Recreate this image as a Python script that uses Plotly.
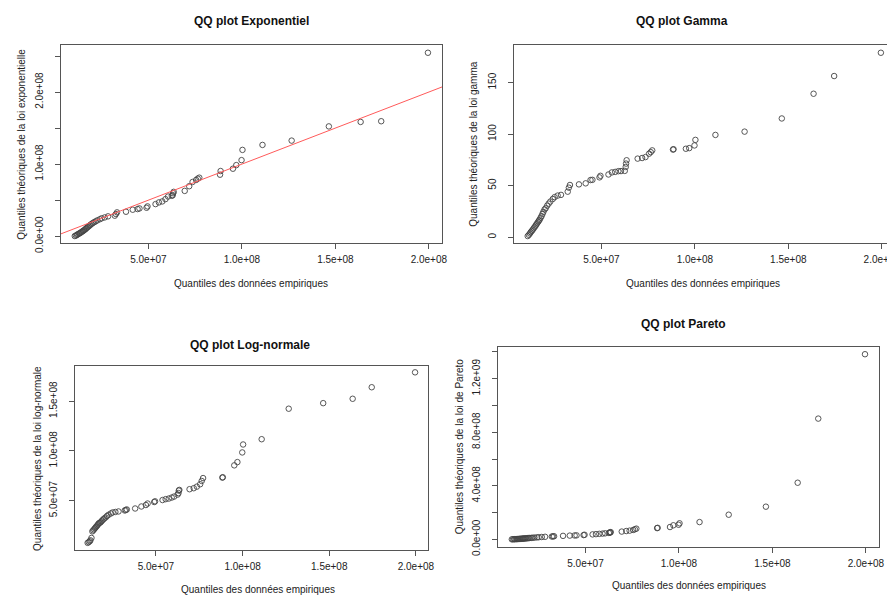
import plotly.graph_objects as go

W, H = 895, 596

# Empirical quantiles (sorted data), shared by all four panels
empirical = [
    1.06e7, 1.12e7, 1.18e7, 1.22e7, 1.28e7, 1.33e7, 1.38e7, 1.43e7, 1.48e7, 1.52e7,
    1.57e7, 1.62e7, 1.66e7, 1.70e7, 1.75e7, 1.80e7, 1.85e7, 1.90e7, 1.96e7, 2.02e7,
    2.10e7, 2.18e7, 2.27e7, 2.40e7, 2.50e7, 2.66e7,
    2.84e7, 3.20e7, 3.26e7, 3.32e7,
    3.80e7, 4.16e7, 4.42e7, 4.52e7, 4.90e7, 4.95e7,
    5.38e7, 5.56e7, 5.74e7, 5.91e7, 6.05e7,
    6.25e7, 6.30e7, 6.32e7, 6.35e7,
    6.94e7, 7.18e7, 7.36e7, 7.55e7, 7.64e7, 7.72e7,
    8.83e7, 8.86e7, 9.52e7, 9.70e7, 9.98e7, 1.003e8,
    1.11e8, 1.266e8, 1.465e8, 1.635e8, 1.745e8, 1.995e8,
]

q_exponentiel = [
    0.15e6, 0.9e6, 1.7e6, 2.6e6, 3.4e6, 4.2e6, 5.0e6, 5.9e6, 6.8e6, 7.6e6,
    8.5e6, 9.5e6, 1.05e7, 1.15e7, 1.25e7, 1.36e7, 1.47e7, 1.58e7, 1.70e7, 1.82e7,
    1.94e7, 2.06e7, 2.20e7, 2.35e7, 2.48e7, 2.60e7,
    2.75e7, 2.84e7, 3.07e7, 3.30e7,
    3.39e7, 3.67e7, 3.76e7, 3.85e7, 3.94e7, 4.13e7,
    4.45e7, 4.68e7, 4.82e7, 5.14e7, 5.50e7,
    5.60e7, 5.69e7, 5.96e7, 6.15e7,
    6.28e7, 6.93e7, 7.52e7, 7.80e7, 7.98e7, 8.12e7,
    8.53e7, 9.04e7, 9.36e7, 9.86e7, 1.055e8, 1.197e8,
    1.266e8, 1.326e8, 1.523e8, 1.585e8, 1.595e8, 2.545e8,
]

q_gamma = [
    1.0, 2.2, 3.5, 4.8, 6.0, 7.2, 8.5, 9.8, 11.0, 12.3,
    13.5, 14.9, 16.0, 17.0, 18.8, 20.4, 22.5, 24.5, 26.8, 28.0,
    30.5, 32.5, 34.5, 37.0, 38.8, 40.3,
    41.0, 44.1, 48.0, 50.6,
    51.2, 52.2, 55.4, 55.6, 58.0, 59.5,
    60.8, 62.8, 63.3, 64.0, 64.1,
    64.3, 68.1, 71.4, 74.6,
    76.2, 76.8, 77.7, 81.0, 82.5, 84.2,
    85.0, 85.3, 85.8, 86.4, 89.0, 94.4,
    99.2, 102.4, 115.2, 139.2, 156.4, 179.0,
]

q_lognormale = [
    0.74e7, 0.82e7, 0.90e7, 1.00e7, 1.24e7, 1.90e7, 2.00e7, 2.10e7, 2.20e7, 2.30e7,
    2.40e7, 2.50e7, 2.60e7, 2.70e7, 2.75e7, 2.80e7, 2.90e7, 3.00e7, 3.10e7, 3.20e7,
    3.30e7, 3.45e7, 3.57e7, 3.70e7, 3.80e7, 3.85e7,
    3.90e7, 4.00e7, 4.05e7, 4.10e7,
    4.20e7, 4.40e7, 4.55e7, 4.70e7, 4.85e7, 4.92e7,
    5.05e7, 5.14e7, 5.20e7, 5.30e7, 5.40e7,
    5.60e7, 5.75e7, 6.00e7, 6.07e7,
    6.14e7, 6.24e7, 6.40e7, 6.64e7, 6.97e7, 7.26e7,
    7.31e7, 7.34e7, 8.54e7, 8.87e7, 9.84e7, 1.064e8,
    1.117e8, 1.424e8, 1.480e8, 1.524e8, 1.640e8, 1.790e8,
]

q_pareto = [
    0.1e6, 0.4e6, 0.8e6, 1.2e6, 1.6e6, 2.0e6, 2.5e6, 3.0e6, 3.5e6, 4.0e6,
    4.5e6, 5.0e6, 5.6e6, 6.2e6, 6.8e6, 7.4e6, 8.0e6, 8.7e6, 9.4e6, 10.2e6,
    11e6, 12e6, 13e6, 14.5e6, 16e6, 17.5e6,
    19e6, 21e6, 22e6, 23e6,
    26e6, 28e6, 29e6, 30e6, 32e6, 34e6,
    37e6, 39e6, 41e6, 43e6, 45e6,
    48e6, 50e6, 52e6, 54e6,
    58e6, 62e6, 65e6, 70e6, 75e6, 80e6,
    84e6, 86e6, 92e6, 105e6, 109e6, 120e6,
    129e6, 184e6, 244e6, 423e6, 902e6, 1383e6,
]

titles = ["QQ plot Exponentiel", "QQ plot Gamma", "QQ plot Log-normale", "QQ plot Pareto"]
ylabels = [
    "Quantiles théoriques de la loi exponentielle",
    "Quantiles théoriques de la loi gamma",
    "Quantiles théoriques de la loi log-normale",
    "Quantiles théoriques de la loi de Pareto",
]
xlabel = "Quantiles des données empiriques"

x_tickvals = [5e7, 1e8, 1.5e8, 2e8]
x_ticktext = ["5.0e+07", "1.0e+08", "1.5e+08", "2.0e+08"]

y_tickvals = [
    [0, 5e7, 1e8, 1.5e8, 2e8, 2.5e8],
    [0, 50, 100, 150],
    [5e7, 1e8, 1.5e8],
    [0, 2e8, 4e8, 6e8, 8e8, 1e9, 1.2e9, 1.4e9],
]
y_ticktext = [
    ["0.0e+00", "", "1.0e+08", "", "2.0e+08", ""],
    ["0", "50", "100", "150"],
    ["5.0e+07", "1.0e+08", "1.5e+08"],
    ["0.0e+00", "", "4.0e+08", "", "8.0e+08", "", "1.2e+09", ""],
]

# reference line for exponential panel: intercept, slope
abline_intercept, abline_slope = 0.0, 1.0

series = [q_exponentiel, q_gamma, q_lognormale, q_pareto]

# plot boxes in pixels: (left, right, top, bottom)
boxes = [(53, 437, 38, 239), (509, 893, 38, 239), (67, 423, 363, 550), (493, 877, 344, 547)]
title_pos = [(245, 13), (679, 13), (244, 342), (680, 321)]
xlab_pos = [(245, 280), (700, 280), (252, 590), (686, 586)]
ylab_pos = [(14, 138), (469, 138), (29, 457), (454, 445)]

FONT = "Liberation Sans, Arial, sans-serif"
TXT = "#222222"


def rng(vals):
    lo, hi = min(vals), max(vals)
    pad = (hi - lo) * 0.04
    return [lo - pad, hi + pad]


fig = go.Figure()
layout = dict(
    width=W, height=H, margin=dict(l=0, r=0, t=0, b=0),
    paper_bgcolor="white", plot_bgcolor="white", showlegend=False,
    font=dict(family=FONT, size=10, color=TXT),
)
annotations = []

xr = rng(empirical)
for i, ys in enumerate(series):
    n = i + 1
    xa = "x" if n == 1 else f"x{n}"
    ya = "y" if n == 1 else f"y{n}"
    l, r, t, b = boxes[i]
    yr = rng(ys)
    fig.add_trace(go.Scatter(
        x=empirical, y=ys, mode="markers", xaxis=xa, yaxis=ya,
        marker=dict(symbol="circle-open", size=5.5, color="#444444", line=dict(width=0.9)),
        hoverinfo="x+y",
    ))
    if i == 0:
        fig.add_trace(go.Scatter(
            x=xr, y=[abline_intercept + abline_slope * v for v in xr],
            mode="lines", xaxis=xa, yaxis=ya,
            line=dict(color="#ff5a5a", width=1), hoverinfo="skip",
        ))
    axis_common = dict(
        showgrid=False, zeroline=False, showline=True, mirror=True,
        linecolor="#555555", linewidth=1, ticks="outside", ticklen=5,
        tickcolor="#555555", tickfont=dict(family=FONT, size=10, color=TXT),
    )
    layout["xaxis" if n == 1 else f"xaxis{n}"] = dict(
        axis_common, domain=[l / W, r / W], anchor=ya, range=xr,
        tickmode="array", tickvals=x_tickvals, ticktext=x_ticktext,
        ticklabelstandoff=2,
    )
    layout["yaxis" if n == 1 else f"yaxis{n}"] = dict(
        axis_common, domain=[1 - b / H, 1 - t / H], anchor=xa, range=yr,
        tickmode="array", tickvals=y_tickvals[i], ticktext=y_ticktext[i],
        tickangle=-90, ticklabelstandoff=8,
    )
    tx, ty = title_pos[i]
    annotations.append(dict(
        text=f"<b>{titles[i]}</b>", x=tx / W, y=1 - ty / H, xref="paper", yref="paper",
        showarrow=False, font=dict(family=FONT, size=12, color="#111111"),
        xanchor="center", yanchor="middle",
    ))
    lx, ly = xlab_pos[i]
    annotations.append(dict(
        text=xlabel, x=lx / W, y=1 - ly / H, xref="paper", yref="paper",
        showarrow=False, font=dict(family=FONT, size=10, color=TXT),
        xanchor="center", yanchor="middle",
    ))
    vx, vy = ylab_pos[i]
    annotations.append(dict(
        text=ylabels[i], x=vx / W, y=1 - vy / H, xref="paper", yref="paper",
        showarrow=False, textangle=-90, font=dict(family=FONT, size=10, color=TXT),
        xanchor="center", yanchor="middle",
    ))

layout["annotations"] = annotations
fig.update_layout(**layout)
fig.write_html("out.html")
